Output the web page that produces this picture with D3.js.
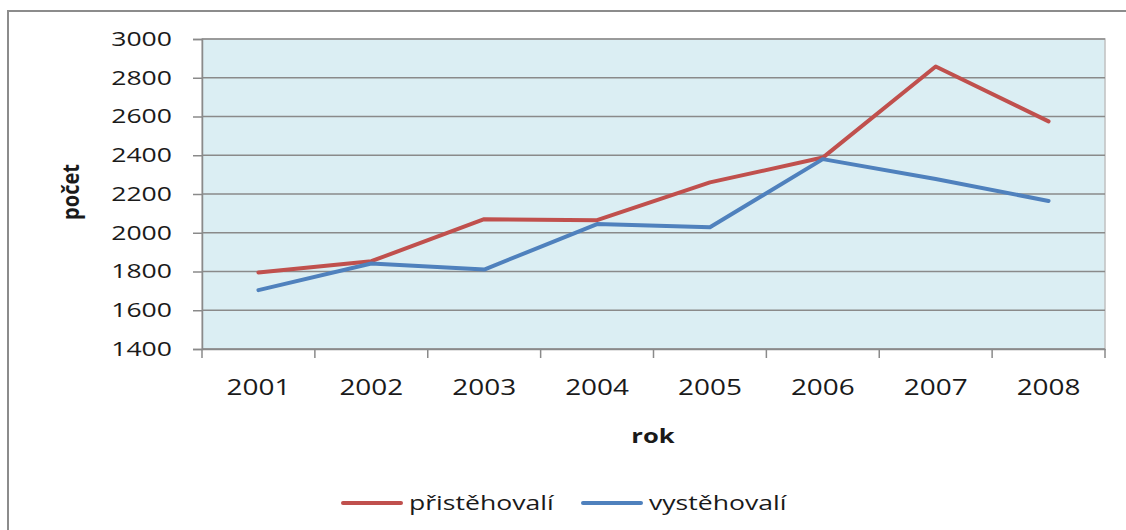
<!DOCTYPE html>
<html>
<head>
<meta charset="utf-8">
<script src="https://cdn.jsdelivr.net/npm/d3@7"></script>
<style>
  body { margin: 0; background: #fff; }
  svg text { font-family: "Open Sans", "DejaVu Sans", sans-serif; fill: #1a1a1a; }
</style>
</head>
<body>
<script>
"use strict";

// data
const years = ["2001", "2002", "2003", "2004", "2005", "2006", "2007", "2008"];
const prist = [1795, 1853, 2070, 2065, 2260, 2388, 2858, 2575];
const vyst = [1704, 1841, 1810, 2045, 2028, 2380, 2277, 2164];
const yTicks = [1400, 1600, 1800, 2000, 2200, 2400, 2600, 2800, 3000];
const seriesNames = ["přistěhovalí", "vystěhovalí"];
const seriesColors = ["#c0504d", "#4f81bd"];

const W = 1126, H = 530;
const SX = 1.33;   // the reference text is stretched sideways
let margin = {top: 39, right: 21, bottom: 181, left: 202},
    width = W - margin.left - margin.right,
    height = H - margin.top - margin.bottom;

// stretch a text horizontally but keep its anchor point where it was
function stretch(sel, sx) {
    sel.each(function() {
        let t = d3.select(this);
        let x0 = +t.attr("x") || 0;
        t.attr("x", x0 / sx).attr("transform", "scale(" + sx + ",1)");
    });
}

let svg = d3.select("body").append("svg")
    .attr("width", W)
    .attr("height", H);

// outer frame of the chart
svg.append("rect")
    .attr("x", 8).attr("y", 11)
    .attr("width", W + 10).attr("height", H + 10)
    .attr("fill", "none")
    .attr("stroke", "#8c8c8c")
    .attr("stroke-width", 2);

let x = d3.scaleBand().domain(years).range([0, width]);
let y = d3.scaleLinear().domain([1400, 3000]).range([height, 0]);

let g = svg.append("g")
    .attr("transform", "translate(" + margin.left + "," + margin.top + ")");

// plot background
g.append("rect")
    .attr("width", width).attr("height", height)
    .attr("fill", "#dbeef3")
    .attr("stroke", "#c0c0c0")
    .attr("stroke-width", 1.5);

// grid lines
g.selectAll("line.grid")
    .data(yTicks)
    .enter().append("line")
    .attr("class", "grid")
    .attr("x1", 0).attr("x2", width)
    .attr("y1", d => y(d)).attr("y2", d => y(d))
    .attr("stroke", "#8a8a8a")
    .attr("stroke-width", 1.5);

// y axis
let yAxis = g.append("g")
    .call(d3.axisLeft(y).tickValues(yTicks).tickSize(9).tickPadding(21).tickFormat(d3.format("d")));
yAxis.select(".domain").attr("stroke", "#8a8a8a").attr("stroke-width", 1.5);
yAxis.selectAll(".tick line").attr("stroke", "#8a8a8a").attr("stroke-width", 1.5);
yAxis.selectAll("text").style("font-size", "20px").attr("fill", "#1a1a1a").call(stretch, SX);

// x axis, ticks between the categories
let xAxis = g.append("g")
    .attr("transform", "translate(0," + height + ")")
    .call(d3.axisBottom(x).tickSize(0).tickPadding(31));
xAxis.select(".domain").attr("stroke", "#8a8a8a").attr("stroke-width", 1.5);
xAxis.selectAll("text").style("font-size", "21px").attr("fill", "#1a1a1a").call(stretch, SX);
xAxis.selectAll("line.sep")
    .data(years.concat(["end"]))
    .enter().append("line")
    .attr("class", "sep")
    .attr("x1", (d, i) => i * x.step()).attr("x2", (d, i) => i * x.step())
    .attr("y1", 0).attr("y2", 9)
    .attr("stroke", "#8a8a8a")
    .attr("stroke-width", 1.5);

// lines
let line = d3.line()
    .x((d, i) => x(years[i]) + x.bandwidth() / 2)
    .y(d => y(d));

[prist, vyst].forEach(function(vals, k) {
    g.append("path")
        .datum(vals)
        .attr("d", line)
        .attr("fill", "none")
        .attr("stroke", seriesColors[k])
        .attr("stroke-width", 4)
        .attr("stroke-linejoin", "round")
        .attr("stroke-linecap", "round");
});

// axis titles
svg.append("g").attr("transform", "translate(653,443)")
    .append("text")
    .attr("text-anchor", "middle")
    .style("font-size", "20px")
    .style("font-weight", "bold")
    .text("rok")
    .call(stretch, 1.28);

svg.append("g").attr("transform", "translate(79,192) rotate(-90)")
    .append("text")
    .attr("text-anchor", "middle")
    .attr("transform", "scale(1,1.15)")
    .style("font-size", "20px")
    .style("font-weight", "bold")
    .text("počet");

// legend
let legendX = [343, 583];
seriesNames.forEach(function(name, k) {
    let lg = svg.append("g").attr("transform", "translate(" + legendX[k] + ",503)");
    lg.append("line")
        .attr("x1", 0).attr("x2", 58)
        .attr("stroke", seriesColors[k])
        .attr("stroke-width", 4)
        .attr("stroke-linecap", "round");
    lg.append("text")
        .attr("x", 66).attr("y", 7)
        .style("font-size", "20px")
        .text(name)
        .call(stretch, SX);
});
</script>
</body>
</html>
